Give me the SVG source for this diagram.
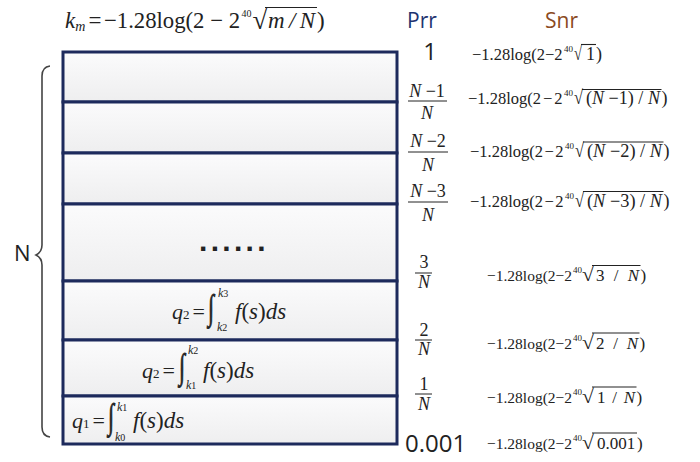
<svg xmlns="http://www.w3.org/2000/svg" width="700" height="462" viewBox="0 0 700 462">
<defs>
<linearGradient id="rowfill" x1="0" y1="0" x2="0" y2="1">
<stop offset="0" stop-color="#fbfbfc"/>
<stop offset="1" stop-color="#eeeeef"/>
</linearGradient>
</defs>
<style>
.row{fill:url(#rowfill);stroke:#1d2a5c;stroke-width:3}
.m{font-family:"Liberation Serif","Times New Roman",serif;fill:#222}
.i{font-style:italic}
.a{font-size:18px}
.a2{font-size:16.5px}
.b{font-size:17px}
.b2{font-size:15.5px}
.idx{font-size:9px}
.rad{font-size:20px}
.ov{stroke:#222;stroke-width:1.1}
.fb{stroke:#222;stroke-width:1}
.frac{font-size:18px;text-anchor:middle}
.sans{font-family:"Open Sans","Liberation Sans",sans-serif}
.q{font-size:22px}
.fs{font-size:23px}
.lim{font-size:12px}
.int{font-size:22px;stroke:#222;stroke-width:0.5}
</style>
<rect width="700" height="462" fill="#ffffff"/>

<g id="title">
<text class="m i" x="65" y="28" font-size="23">k<tspan font-size="14" dy="3">m</tspan></text>
<text class="m" x="88.5" y="28" font-size="23">=</text>
<text class="m" x="104" y="28" font-size="23" textLength="136" lengthAdjust="spacingAndGlyphs">−1.28log(2 − 2</text>
<text class="m" x="241.5" y="17" font-size="10">40</text>
<text class="m" x="252.5" y="29" font-size="27">√</text>
<text class="m i" x="268" y="28" font-size="23" textLength="47" lengthAdjust="spacing">m / N</text>
<text class="m" x="317" y="28" font-size="23">)</text>
<line class="ov" x1="265" y1="7.5" x2="317" y2="7.5"/>
</g>

<text class="sans" x="407" y="28" font-size="21" fill="#1f3470">Prr</text>
<text class="sans" x="545" y="28" font-size="21" fill="#8b4a22">Snr</text>

<g id="stack">
<g id="row1"><rect class="row" x="63" y="52" width="334" height="50"/></g>
<g id="row2"><rect class="row" x="63" y="102" width="334" height="51"/></g>
<g id="row3"><rect class="row" x="63" y="153" width="334" height="51"/></g>
<g id="row4"><rect class="row" x="63" y="204" width="334" height="77"/>
<text x="199" y="251" font-family="Liberation Sans, Arial, sans-serif" font-size="30" font-weight="bold" letter-spacing="3.3" fill="#222">......</text></g>
<g id="row5"><rect class="row" x="63" y="281" width="334" height="59"/>
<text class="m i q" x="172" y="319">q<tspan font-style="normal" font-size="13">2</tspan><tspan font-style="normal" dx="3">=</tspan></text>
<text class="m int" transform="translate(208,319) scale(1,1.6)">∫</text>
<text class="m i lim" x="218" y="297">k<tspan font-style="normal" font-size="10">3</tspan></text>
<text class="m i lim" x="217" y="331">k<tspan font-style="normal" font-size="10">2</tspan></text>
<text class="m i fs" x="235" y="319">f<tspan font-style="normal">(</tspan>s<tspan font-style="normal">)</tspan>ds</text></g>
<g id="row6"><rect class="row" x="63" y="340" width="334" height="56"/>
<text class="m i q" x="142" y="378">q<tspan font-style="normal" font-size="13">2</tspan><tspan font-style="normal" dx="3">=</tspan></text>
<text class="m int" transform="translate(179,378) scale(1,1.6)">∫</text>
<text class="m i lim" x="188" y="354">k<tspan font-style="normal" font-size="10">2</tspan></text>
<text class="m i lim" x="186" y="389">k<tspan font-style="normal" font-size="10">1</tspan></text>
<text class="m i fs" x="203" y="378">f<tspan font-style="normal">(</tspan>s<tspan font-style="normal">)</tspan>ds</text></g>
<g id="row7"><rect class="row" x="63" y="396" width="334" height="48"/>
<text class="m i q" x="72" y="428">q<tspan font-style="normal" font-size="13">1</tspan><tspan font-style="normal" dx="3">=</tspan></text>
<text class="m int" transform="translate(108,428) scale(1,1.6)">∫</text>
<text class="m i lim" x="117" y="411">k<tspan font-style="normal" font-size="10">1</tspan></text>
<text class="m i lim" x="115" y="441">k<tspan font-style="normal" font-size="10">0</tspan></text>
<text class="m i fs" x="133" y="428">f<tspan font-style="normal">(</tspan>s<tspan font-style="normal">)</tspan>ds</text></g>
</g>

<g id="brace">
<path d="M50,66 Q42,67 42,76 L42,245 Q42,252 36,255 Q42,258 42,265 L42,427 Q42,436 50,437" fill="none" stroke="#444" stroke-width="1.6"/>
<text class="sans" x="14" y="261" font-size="22" fill="#222">N</text>
</g>

<g id="prr">
<text class="sans" x="430" y="60" font-size="24" text-anchor="middle" fill="#222">1</text>
<text class="m frac" x="427" y="97"><tspan class="i">N</tspan> −1</text>
<line class="fb" x1="408" y1="101" x2="447" y2="101"/>
<text class="m frac i" x="427" y="119">N</text>
<text class="m frac" x="428" y="147"><tspan class="i">N</tspan> −2</text>
<line class="fb" x1="408" y1="152" x2="448" y2="152"/>
<text class="m frac i" x="428" y="171">N</text>
<text class="m frac" x="428" y="197"><tspan class="i">N</tspan> −3</text>
<line class="fb" x1="408" y1="202" x2="448" y2="202"/>
<text class="m frac i" x="428" y="221">N</text>
<text class="m frac" x="424" y="268">3</text>
<line class="fb" x1="415" y1="273" x2="432" y2="273"/>
<text class="m frac i" x="424" y="288">N</text>
<text class="m frac" x="424" y="336">2</text>
<line class="fb" x1="415" y1="340" x2="432" y2="340"/>
<text class="m frac i" x="424" y="355">N</text>
<text class="m frac" x="424" y="390">1</text>
<line class="fb" x1="415" y1="394" x2="432" y2="394"/>
<text class="m frac i" x="424" y="410">N</text>
<text class="sans" x="405" y="452" font-size="24" fill="#222">0.001</text>
</g>

<g id="snr">
<g id="snr1">
<text class="m a2" x="472" y="60">−1.28log(2−2</text>
<text class="m idx" x="564" y="52">40</text>
<text class="m rad" x="574" y="60" textLength="8" lengthAdjust="spacingAndGlyphs">√</text>
<text class="m a" x="586" y="60">1</text>
<text class="m a" x="596" y="60">)</text>
<line class="ov" x1="581" y1="44.5" x2="596" y2="44.5"/>
</g>
<g id="snr2">
<text class="m a2" x="468" y="104">−1.28log(2<tspan dx="2">−</tspan><tspan dx="2">2</tspan></text>
<text class="m idx" x="564" y="96">40</text>
<text class="m rad" x="574" y="104" textLength="9" lengthAdjust="spacingAndGlyphs">√</text>
<text class="m a" x="586" y="104" textLength="74" lengthAdjust="spacingAndGlyphs">(<tspan class="i">N</tspan> −1) / <tspan class="i">N</tspan></text>
<text class="m a" x="661.5" y="104">)</text>
<line class="ov" x1="582" y1="89.5" x2="661.5" y2="89.5"/>
</g>
<g id="snr3">
<text class="m a2" x="470" y="157">−1.28log(2<tspan dx="1.5">−</tspan><tspan dx="1.5">2</tspan></text>
<text class="m idx" x="565" y="149">40</text>
<text class="m rad" x="575" y="157" textLength="9" lengthAdjust="spacingAndGlyphs">√</text>
<text class="m a" x="587" y="157" textLength="75" lengthAdjust="spacingAndGlyphs">(<tspan class="i">N</tspan> −2) / <tspan class="i">N</tspan></text>
<text class="m a" x="663.5" y="157">)</text>
<line class="ov" x1="583" y1="142" x2="663.5" y2="142"/>
</g>
<g id="snr4">
<text class="m a2" x="470" y="207">−1.28log(2<tspan dx="1.5">−</tspan><tspan dx="1.5">2</tspan></text>
<text class="m idx" x="565" y="199">40</text>
<text class="m rad" x="575" y="207" textLength="9" lengthAdjust="spacingAndGlyphs">√</text>
<text class="m a" x="587" y="207" textLength="75" lengthAdjust="spacingAndGlyphs">(<tspan class="i">N</tspan> −3) / <tspan class="i">N</tspan></text>
<text class="m a" x="663.5" y="207">)</text>
<line class="ov" x1="583" y1="191.5" x2="663.5" y2="191.5"/>
</g>
<g id="snr5">
<text class="m b2" x="487" y="281">−1.28log(2−2</text>
<text class="m idx" x="573" y="273">40</text>
<text class="m rad" x="582" y="281" textLength="12" lengthAdjust="spacingAndGlyphs">√</text>
<text class="m b" x="596" y="281" textLength="43" lengthAdjust="spacing">3 / <tspan class="i">N</tspan></text>
<text class="m b" x="640.5" y="281">)</text>
<line class="ov" x1="592" y1="265.5" x2="640.5" y2="265.5"/>
</g>
<g id="snr6">
<text class="m b2" x="487" y="349">−1.28log(2−2</text>
<text class="m idx" x="573" y="341">40</text>
<text class="m rad" x="582" y="349" textLength="12" lengthAdjust="spacingAndGlyphs">√</text>
<text class="m b" x="596" y="349" textLength="42" lengthAdjust="spacing">2 / <tspan class="i">N</tspan></text>
<text class="m b" x="639.5" y="349">)</text>
<line class="ov" x1="592" y1="333" x2="639.5" y2="333"/>
</g>
<g id="snr7">
<text class="m b2" x="487" y="403">−1.28log(2−2</text>
<text class="m idx" x="573" y="395">40</text>
<text class="m rad" x="582" y="403" textLength="12" lengthAdjust="spacingAndGlyphs">√</text>
<text class="m b" x="597" y="403" textLength="38" lengthAdjust="spacing">1 / <tspan class="i">N</tspan></text>
<text class="m b" x="636.5" y="403">)</text>
<line class="ov" x1="592" y1="387" x2="636.5" y2="387"/>
</g>
<g id="snr8">
<text class="m b2" x="487" y="449">−1.28log(2−2</text>
<text class="m idx" x="573" y="441">40</text>
<text class="m rad" x="582" y="449" textLength="12" lengthAdjust="spacingAndGlyphs">√</text>
<text class="m b" x="597" y="449">0.001</text>
<text class="m b" x="637" y="449">)</text>
<line class="ov" x1="592" y1="433" x2="637" y2="433"/>
</g>
</g>
</svg>
